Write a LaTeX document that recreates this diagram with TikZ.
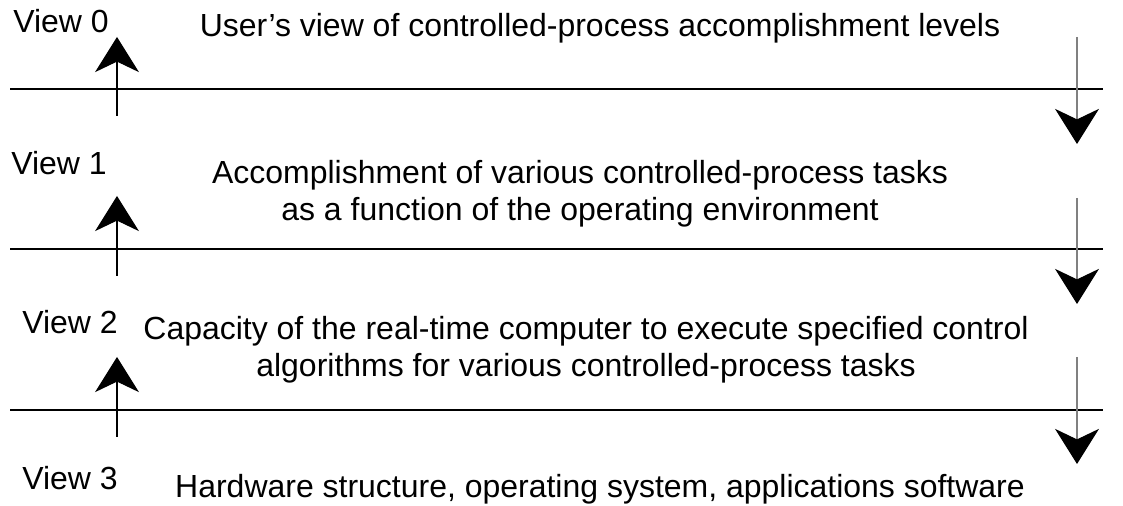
\documentclass[tikz,border=0pt]{standalone}
\usepackage{fontspec}
\setmainfont{Liberation Sans}
\usetikzlibrary{arrows.meta}
\begin{document}
\begin{tikzpicture}[x=0.02cm,y=-0.02cm]
\tikzstyle{txt}=[inner sep=0pt,align=center,font=\fontsize{18.2pt}{21pt}\selectfont]
\tikzstyle{viewlbl}=[inner sep=0pt,font=\fontsize{18.2pt}{21pt}\selectfont]
\tikzstyle{sep}=[line width=0.6pt]
\tikzstyle{uparr}=[line width=0.6pt,-{Stealth[length=20pt,width=25pt,inset=6pt]}]
\tikzstyle{downarr}=[line width=0.6pt,draw=gray,-{Stealth[length=20pt,width=25pt,inset=6pt,color=black]}]
\useasboundingbox (0,0) rectangle (1123,506);
% view labels
\node [viewlbl] (V0) at (61,21) {View 0};
\node [viewlbl] (V1) at (59,163) {View 1};
\node [viewlbl] (V2) at (70,322) {View 2};
\node [viewlbl] (V3) at (70,478) {View 3};
% level texts
\node [txt] (T0) at (600,28) {User’s view of controlled-process accomplishment levels};
\node [txt] (T1) at (580,194) {Accomplishment of various controlled-process tasks\\as a function of the operating environment};
\node [txt] (T2) at (586,350) {Capacity of the real-time computer to execute specified control\\algorithms for various controlled-process tasks};
\node [txt] (T3) at (600,489) {Hardware structure, operating system, applications software};
% separators
\coordinate (L1a) at (10,89);  \coordinate (L1b) at (1103,89);
\coordinate (L2a) at (10,249); \coordinate (L2b) at (1103,249);
\coordinate (L3a) at (10,410); \coordinate (L3b) at (1103,410);
\draw [sep] (L1a) -- (L1b);
\draw [sep] (L2a) -- (L2b);
\draw [sep] (L3a) -- (L3b);
% upward arrows
\coordinate (U1s) at (117,116); \coordinate (U1e) at (117,37);
\coordinate (U2s) at (117,276); \coordinate (U2e) at (117,196);
\coordinate (U3s) at (117,437); \coordinate (U3e) at (117,357);
\draw [uparr] (U1s) -- (U1e);
\draw [uparr] (U2s) -- (U2e);
\draw [uparr] (U3s) -- (U3e);
% downward arrows
\coordinate (D1s) at (1077,37);  \coordinate (D1e) at (1077,144);
\coordinate (D2s) at (1077,198); \coordinate (D2e) at (1077,304);
\coordinate (D3s) at (1077,357); \coordinate (D3e) at (1077,464);
\draw [downarr] (D1s) -- (D1e);
\draw [downarr] (D2s) -- (D2e);
\draw [downarr] (D3s) -- (D3e);
\end{tikzpicture}
\end{document}
